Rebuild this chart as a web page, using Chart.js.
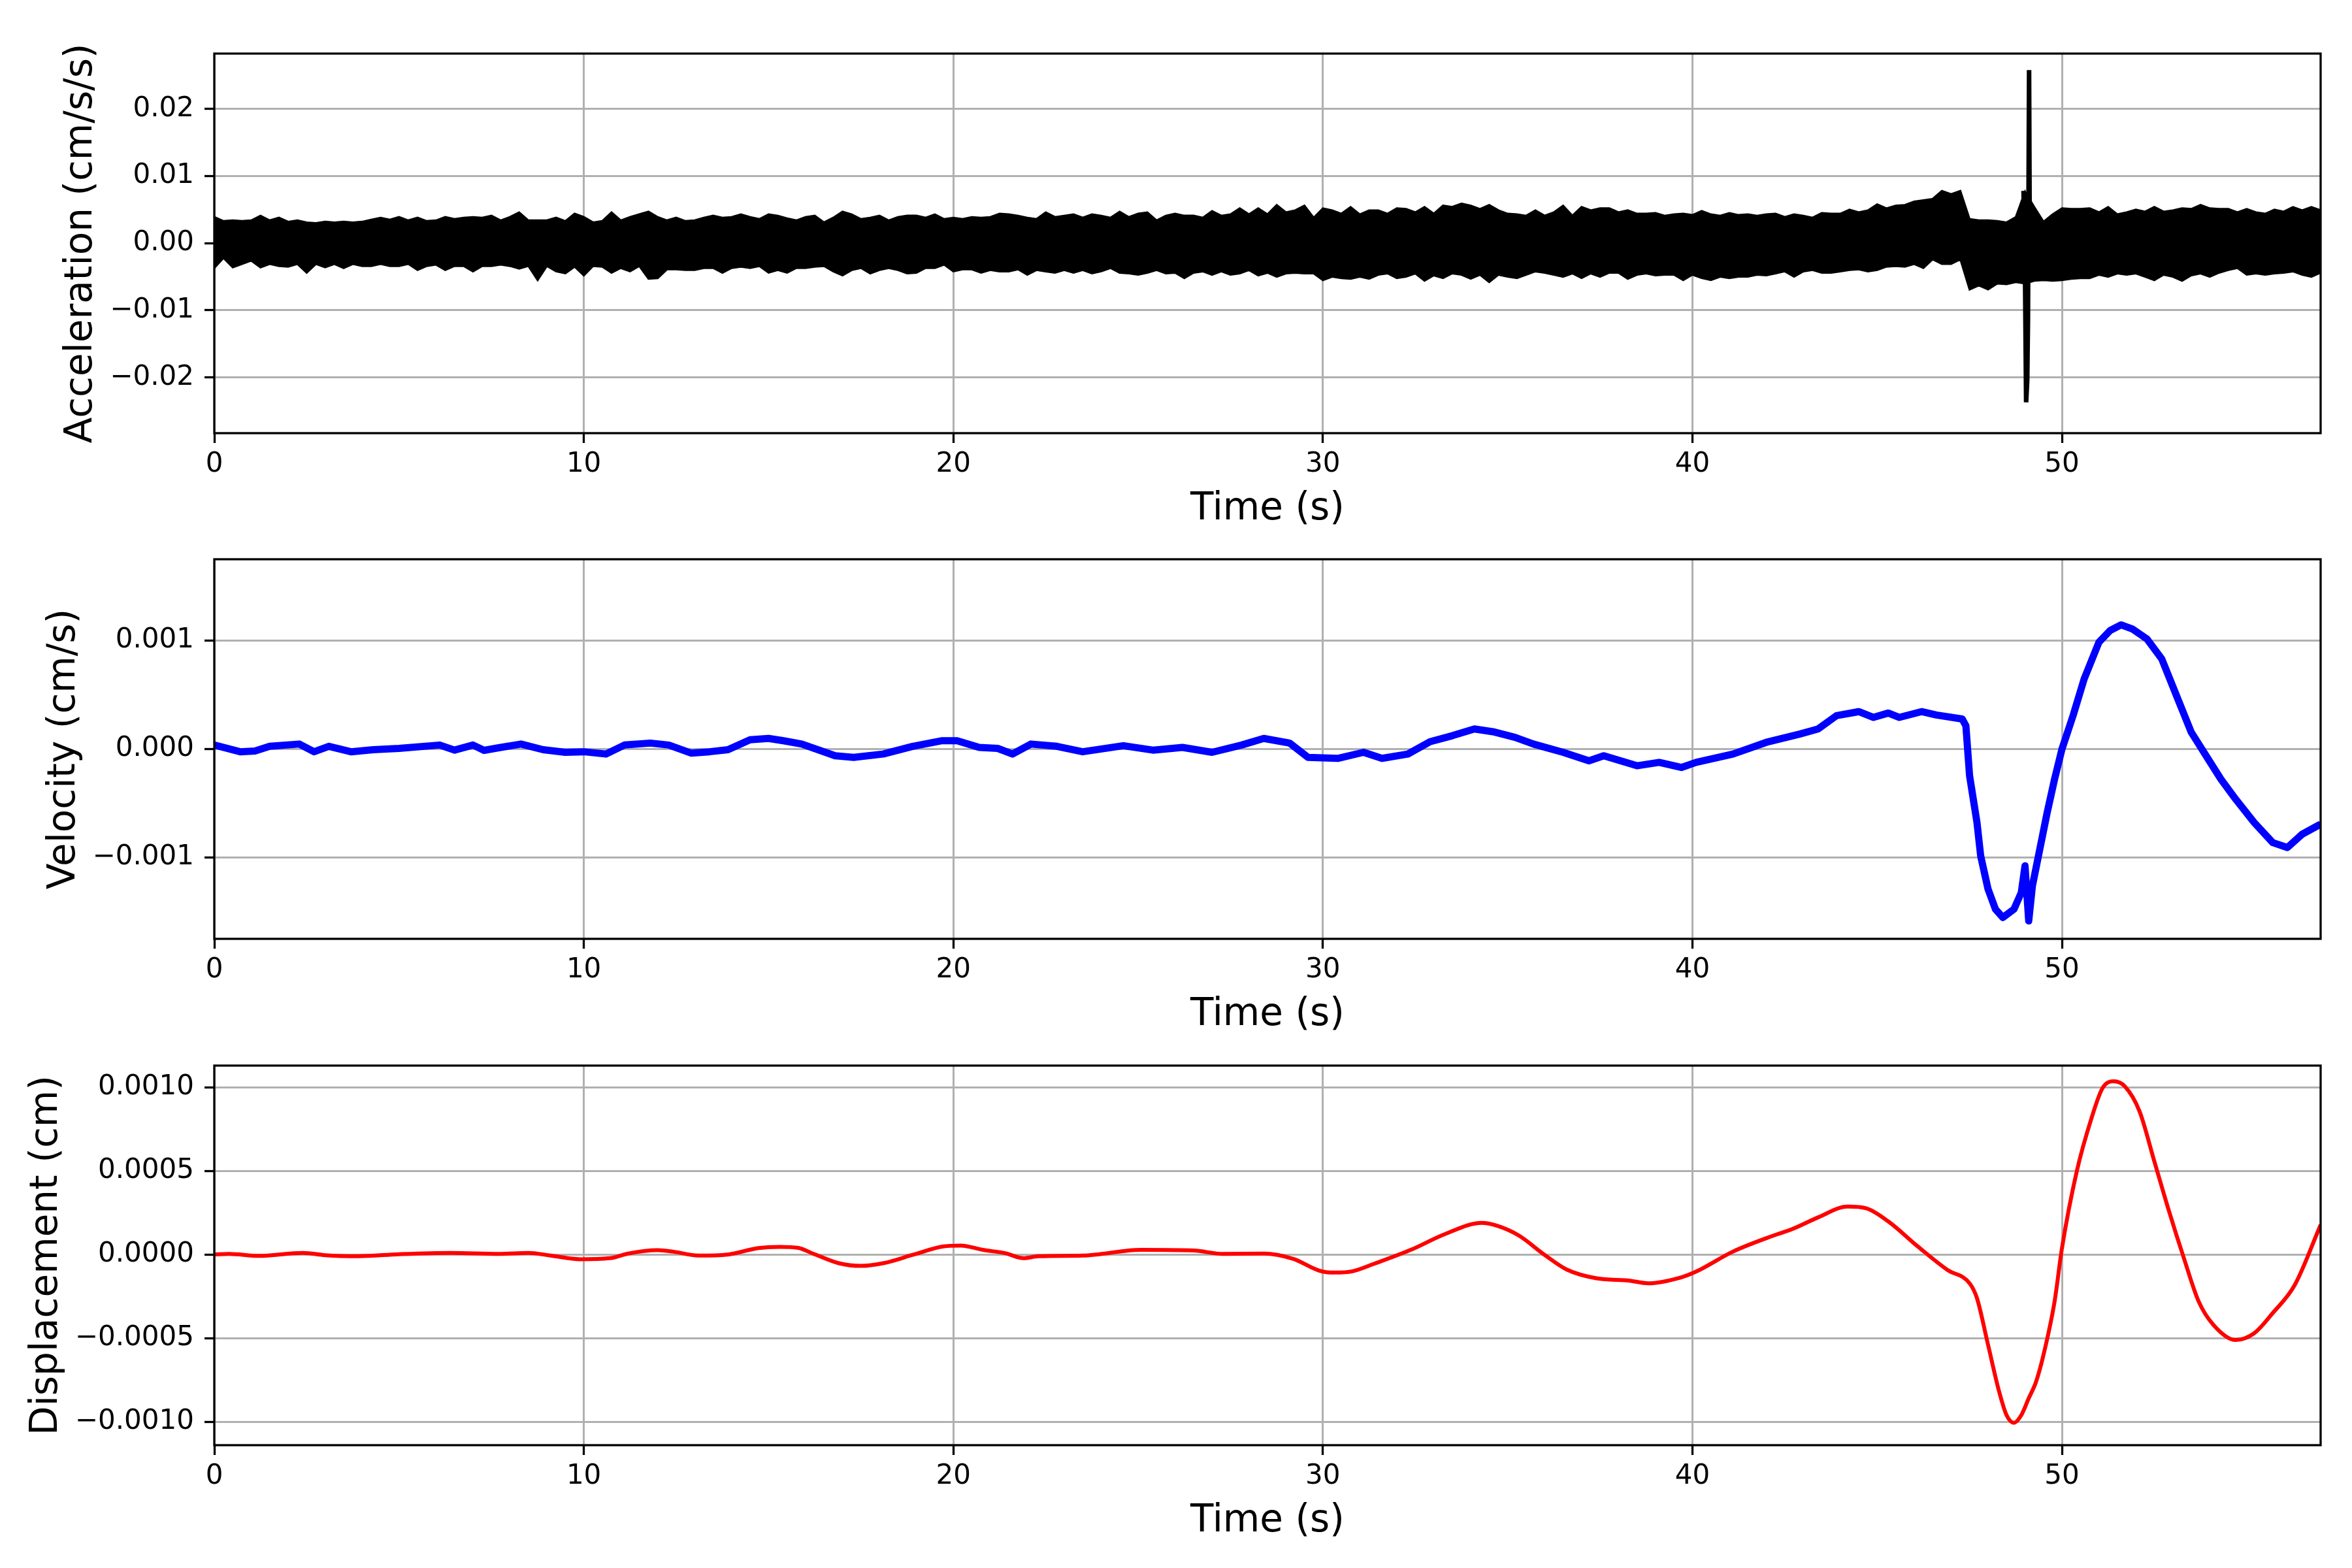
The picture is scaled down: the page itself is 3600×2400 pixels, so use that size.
<!DOCTYPE html>
<html>
<head>
<meta charset="utf-8">
<script src="https://cdn.jsdelivr.net/npm/chart.js@4.4.1/dist/chart.umd.min.js"></script>
<style>
  html, body { margin:0; padding:0; background:#ffffff; }
  body { width:3600px; height:2400px; position:relative; overflow:hidden; }
  canvas { position:absolute; left:0; }
</style>
</head>
<body>
<canvas id="c1" width="3600" height="840" style="top:0px;width:3600px;height:840px"></canvas>
<canvas id="c2" width="3600" height="840" style="top:774px;width:3600px;height:840px"></canvas>
<canvas id="c3" width="3600" height="840" style="top:1549px;width:3600px;height:840px"></canvas>
<script>
// ---------------- DATA ----------------
const timeTicks = [0, 10, 20, 30, 40, 50];
const timeMax = 57;

const accStep = 0.25;
const accUpper = [
  .0039,.0033,.0034,.0033, .0034,.0041,.0034,.0038, .0032,.0034,.0031,.0030, .0032,.0031,.0032,.0031,
  .0032,.0035,.0038,.0035, .0039,.0034,.0038,.0033, .0034,.0039,.0036,.0038, .0039,.0038,.0041,.0034,
  .0039,.0046,.0034,.0034, .0034,.0038,.0033,.0044, .0039,.0031,.0033,.0046, .0034,.0039,.0043,.0047,
  .0039,.0034,.0038,.0033, .0034,.0038,.0041,.0038, .0039,.0043,.0039,.0036, .0043,.0041,.0037,.0034,
  .0039,.0041,.0031,.0038, .0047,.0043,.0036,.0038, .0041,.0034,.0039,.0041,
  .0041,.0038,.0043,.0036, .0038,.0036,.0039,.0038, .0039,.0044,.0043,.0041, .0038,.0036,.0046,.0039,
  .0041,.0043,.0038,.0043, .0041,.0038,.0047,.0039, .0044,.0046,.0034,.0041, .0044,.0041,.0041,.0038,
  .0048,.0041,.0043,.0052, .0043,.0052,.0043,.0057, .0046,.0049,.0056,.0038, .0052,.0049,.0044,.0054,
  .0043,.0049,.0049,.0044, .0052,.0051,.0046,.0054, .0044,.0056,.0054,.0059, .0056,.0051,.0057,.0049,
  .0044,.0043,.0041,.0049, .0041,.0046,.0056,.0041, .0054,.0049,.0052,.0052,
  .0046,.0049,.0044,.0044, .0045,.0041,.0043,.0044, .0042,.0048,.0043,.0041, .0045,.0042,.0043,.0041,
  .0043,.0044,.0039,.0043, .0041,.0038,.0045,.0044, .0044,.0050,.0046,.0049, .0058,.0052,.0056,.0057,
  .0062,.0064,.0066,.0078, .0073,.0078,.0036,.0034, .0034,.0033,.0031,.0039, .0077,.0054,.0032,.0043,
  .0052,.0051,.0051,.0052, .0046,.0054,.0043,.0046, .0050,.0047,.0054,.0047, .0049,.0052,.0051,.0057,
  .0052,.0051,.0051,.0046, .0051,.0046,.0044,.0050, .0047,.0054,.0049,.0054, .0049
];
const accLower = [
  -.0037,-.0022,-.0036,-.0031, -.0026,-.0036,-.0031,-.0034, -.0035,-.0031,-.0044,-.0031, -.0036,-.0031,-.0037,-.0031,
  -.0034,-.0034,-.0031,-.0034, -.0034,-.0031,-.0040,-.0034, -.0032,-.0040,-.0034,-.0034, -.0042,-.0034,-.0034,-.0032,
  -.0034,-.0038,-.0034,-.0055, -.0034,-.0042,-.0045,-.0035, -.0048,-.0034,-.0035,-.0044, -.0037,-.0042,-.0034,-.0053,
  -.0052,-.0039,-.0039,-.0040, -.0040,-.0037,-.0037,-.0044, -.0037,-.0035,-.0037,-.0034, -.0044,-.0040,-.0044,-.0037,
  -.0037,-.0035,-.0034,-.0042, -.0048,-.0040,-.0037,-.0045, -.0040,-.0037,-.0040,-.0045,
  -.0044,-.0037,-.0037,-.0032, -.0042,-.0039,-.0039,-.0044, -.0040,-.0042,-.0042,-.0039, -.0047,-.0040,-.0042,-.0044,
  -.0040,-.0044,-.0040,-.0045, -.0042,-.0037,-.0044,-.0045, -.0047,-.0044,-.0040,-.0045, -.0044,-.0052,-.0044,-.0042,
  -.0047,-.0042,-.0047,-.0045, -.0040,-.0048,-.0044,-.0050, -.0045,-.0044,-.0045,-.0045, -.0055,-.0050,-.0052,-.0053,
  -.0050,-.0053,-.0047,-.0045, -.0052,-.0050,-.0045,-.0056, -.0048,-.0052,-.0045,-.0047, -.0053,-.0047,-.0058,-.0047,
  -.0050,-.0052,-.0047,-.0042, -.0044,-.0047,-.0050,-.0045, -.0052,-.0045,-.0050,-.0044,
  -.0044,-.0053,-.0047,-.0045, -.0048,-.0047,-.0047,-.0055, -.0047,-.0052,-.0055,-.0050, -.0052,-.0050,-.0050,-.0047,
  -.0048,-.0045,-.0042,-.0050, -.0042,-.0040,-.0044,-.0044, -.0042,-.0040,-.0039,-.0042, -.0040,-.0035,-.0034,-.0035,
  -.0031,-.0037,-.0024,-.0031, -.0031,-.0024,-.0069,-.0063, -.0069,-.0060,-.0061,-.0058, -.0060,-.0056,-.0055,-.0056,
  -.0055,-.0053,-.0052,-.0052, -.0047,-.0050,-.0045,-.0047, -.0045,-.0050,-.0055,-.0047, -.0050,-.0056,-.0048,-.0045,
  -.0050,-.0044,-.0040,-.0037, -.0047,-.0045,-.0047,-.0045, -.0044,-.0042,-.0047,-.0050, -.0044
];
// the large transient near 49 s
const spikeTime  = [48.96, 49.00, 49.03, 49.06, 49.08, 49.11, 49.13, 49.16, 49.20];
const spikeValue = [0.0078, -0.0045, -0.0237, -0.0205, -0.0115, 0.0258, -0.0030, 0.0054, -0.0050];

const accTicks = [-0.02, -0.01, 0, 0.01, 0.02];
const accTickLabels = ['\u22120.02', '\u22120.01', '0.00', '0.01', '0.02'];

// Velocity
const velTime = [0,0.7,1.1,1.5,2.3,2.7,3.1,3.7,4.3,5.0,6.1,6.5,7.0,7.3,7.7,8.3,8.9,9.5,10.0,10.6,11.1,11.8,12.3,12.9,13.4,13.9,
  14.5,15.0,15.4,15.9,16.8,17.3,18.1,18.9,19.7,20.1,20.7,21.2,21.6,22.1,22.8,23.5,24.6,25.4,26.2,27.0,27.8,28.4,29.1,29.6,
  30.4,31.1,31.6,32.3,32.9,33.5,34.1,34.6,35.2,35.7,36.5,37.2,37.6,38.5,39.1,39.7,40.1,41.1,42.0,42.9,43.4,43.9,44.5,44.9,
  45.3,45.6,46.2,46.6,47.3,47.4,47.5,47.7,47.8,48.0,48.2,48.4,48.7,48.9,49.0,49.1,49.2,49.4,49.6,49.8,50.0,50.3,50.6,51.0,
  51.3,51.6,51.9,52.3,52.7,53.1,53.5,53.9,54.3,54.7,55.2,55.7,56.1,56.5,57.0];
const velValue = [0.000037,-0.000025,-0.000018,0.000025,0.000046,-0.000025,0.000025,-0.000025,-0.000006,0.000006,0.000037,-0.00001,
  0.000037,-0.000012,0.000012,0.000046,-0.000006,-0.00003,-0.000025,-0.000046,0.000037,0.000055,0.000037,-0.000037,-0.000025,-0.000006,
  0.000086,0.000098,0.000077,0.000046,-0.000062,-0.000077,-0.000046,0.000025,0.000077,0.000077,0.000015,0.000006,-0.000046,0.000046,
  0.000025,-0.000025,0.000031,-0.00001,0.000015,-0.00003,0.000037,0.000098,0.000055,-0.000077,-0.000086,-0.00003,-0.000086,-0.000046,
  0.000068,0.000123,0.000185,0.00016,0.000108,0.000046,-0.00003,-0.000108,-0.000062,-0.000154,-0.000123,-0.00017,-0.000123,-0.000046,
  0.000062,0.000138,0.000185,0.000308,0.000345,0.000292,0.000332,0.000292,0.000345,0.000314,0.000277,0.000215,-0.000246,-0.000677,
  -0.000985,-0.001292,-0.001477,-0.001554,-0.001477,-0.001323,-0.001077,-0.001585,-0.001262,-0.000923,-0.000585,-0.000277,0,
  0.000308,0.000646,0.000985,0.001092,0.001145,0.001108,0.001015,0.000831,0.000492,0.000154,-0.000062,-0.000277,-0.000462,
  -0.000677,-0.000862,-0.000908,-0.000785,-0.000692];
const velTicks = [-0.001, 0, 0.001];
const velTickLabels = ['\u22120.001', '0.000', '0.001'];

// Displacement
const dispTime = [0,0.4,1.2,2.4,3.0,3.9,5.0,6.4,7.7,8.5,9.1,9.9,10.7,11.2,12.0,12.4,13.1,13.9,14.7,15.3,15.8,16.2,16.9,17.5,18.1,
  18.9,19.7,20.2,20.8,21.4,21.9,22.3,23.5,25.1,26.5,27.3,28.4,29.2,29.9,30.3,30.8,31.4,32.4,33.3,34.3,34.7,35.3,36.0,36.6,
  37.4,38.3,38.8,39.7,40.1,41.1,42.2,42.7,43.4,44.2,44.7,45.3,46.1,46.9,47.5,47.7,48.0,48.3,48.5,48.7,48.9,49.1,49.3,49.5,
  49.8,50.0,50.4,50.8,51.1,51.4,51.7,52.1,52.5,52.9,53.3,53.7,54.1,54.7,55.2,55.7,56.3,57.0];
const dispValue = [0,0.000004,-0.000008,0.00001,-0.000004,-0.00001,0.000002,0.00001,0.000004,0.00001,-0.000006,-0.000028,-0.000022,
  0.000006,0.000026,0.000018,-0.000006,0,0.000038,0.000046,0.00004,0.000006,-0.000052,-0.000068,-0.000052,-0.000002,0.000048,
  0.000054,0.000028,0.000008,-0.000022,-0.00001,-0.000006,0.000028,0.000024,0.000004,0.000006,-0.000026,-0.000096,-0.000108,
  -0.0001,-0.000054,0.00003,0.000122,0.000189,0.000173,0.000114,-0.000002,-0.00009,-0.000142,-0.000156,-0.000172,-0.000136,
  -0.000102,0.000018,0.000114,0.000152,0.000222,0.000287,0.000277,0.000198,0.000048,-0.000092,-0.000172,-0.000261,-0.00054,
  -0.00082,-0.00096,-0.001006,-0.00096,-0.00086,-0.00076,-0.0006,-0.000281,0.000038,0.000497,0.000816,0.000996,0.001036,
  0.001006,0.000856,0.000557,0.000257,-0.000022,-0.000281,-0.000421,-0.000511,-0.000471,-0.000351,-0.000182,0.000178];
const dispTicks = [-0.001, -0.0005, 0, 0.0005, 0.001];
const dispTickLabels = ['\u22120.0010', '\u22120.0005', '0.0000', '0.0005', '0.0010'];

// ---------------- CHARTS ----------------
Chart.defaults.font.family = "'DejaVu Sans', sans-serif";
Chart.defaults.color = '#000000';

const framePlugin = {
  id: 'frame',
  afterDatasetsDraw(chart) {
    const a = chart.chartArea, ctx = chart.ctx;
    ctx.save();
    ctx.strokeStyle = '#000000';
    ctx.lineWidth = 3.3;
    ctx.strokeRect(a.left, a.top, a.right - a.left, a.bottom - a.top);
    ctx.restore();
  }
};

function pts(xs, ys) { return xs.map((x, i) => ({x: x, y: ys[i]})); }

function makeChart(id, datasets, yMin, yMax, yTicks, yLabels, yTitle, yTitlePad) {
  return new Chart(document.getElementById(id), {
    type: 'line',
    data: { datasets: datasets },
    plugins: [framePlugin],
    options: {
      responsive: false,
      animation: false,
      devicePixelRatio: 1,
      parsing: false,
      normalized: true,
      layout: { padding: { left: 0, right: 48, top: 82, bottom: 0 } },
      plugins: { legend: { display: false }, tooltip: { enabled: false } },
      elements: { point: { radius: 0 } },
      scales: {
        x: {
          type: 'linear', min: 0, max: timeMax,
          afterBuildTicks: s => { s.ticks = timeTicks.map(v => ({value: v})); },
          afterFit: s => { s.height = 840 - 663; },
          grid: { color: '#b0b0b0', lineWidth: 3, drawTicks: true, tickLength: 15, tickColor: '#000000', tickWidth: 3.3 },
          border: { display: false },
          ticks: { font: { size: 42 }, padding: 8, maxRotation: 0, autoSkip: false, color: '#000000',
                   callback: v => String(v) },
          title: { display: true, text: 'Time (s)', font: { size: 58, lineHeight: 1.0 }, padding: { top: 0, bottom: 31 }, color: '#000000' }
        },
        y: {
          type: 'linear', min: yMin, max: yMax,
          afterBuildTicks: s => { s.ticks = yTicks.map(v => ({value: v})); },
          afterFit: s => { s.width = 328; },
          grid: { color: '#b0b0b0', lineWidth: 3, drawTicks: true, tickLength: 15, tickColor: '#000000', tickWidth: 3.3 },
          border: { display: false },
          ticks: { font: { size: 42 }, padding: 16, autoSkip: false, color: '#000000',
                   callback: v => { const k = yTicks.findIndex(t => Math.abs(t - v) < 1e-12); return k >= 0 ? yLabels[k] : ''; } },
          title: { display: true, text: yTitle, font: { size: 58, lineHeight: 1.0 }, padding: { top: yTitlePad, bottom: 0 }, color: '#000000' }
        }
      }
    }
  });
}

const accX = accUpper.map((_, i) => i * accStep);

makeChart('c1', [
  { data: pts(accX, accUpper), borderColor: '#000000', borderWidth: 3, fill: false, tension: 0, pointRadius: 0 },
  { data: pts(accX, accLower), borderColor: '#000000', borderWidth: 3, fill: '-1', backgroundColor: '#000000', tension: 0, pointRadius: 0 },
  { data: pts(spikeTime, spikeValue), borderColor: '#000000', borderWidth: 7, fill: false, tension: 0, pointRadius: 0 }
], -0.0283, 0.02825, accTicks, accTickLabels, 'Acceleration (cm/s/s)', 96);

makeChart('c2', [
  { data: pts(velTime, velValue), borderColor: '#0000ff', borderWidth: 11, fill: false, tension: 0, pointRadius: 0, borderJoinStyle: 'round' }
], -0.00175, 0.00175, velTicks, velTickLabels, 'Velocity (cm/s)', 70);

makeChart('c3', [
  { data: pts(dispTime, dispValue), borderColor: '#ff0000', borderWidth: 6, fill: false, cubicInterpolationMode: 'monotone', pointRadius: 0 }
], -0.00114, 0.00113, dispTicks, dispTickLabels, 'Displacement (cm)', 43);
</script>
</body>
</html>
